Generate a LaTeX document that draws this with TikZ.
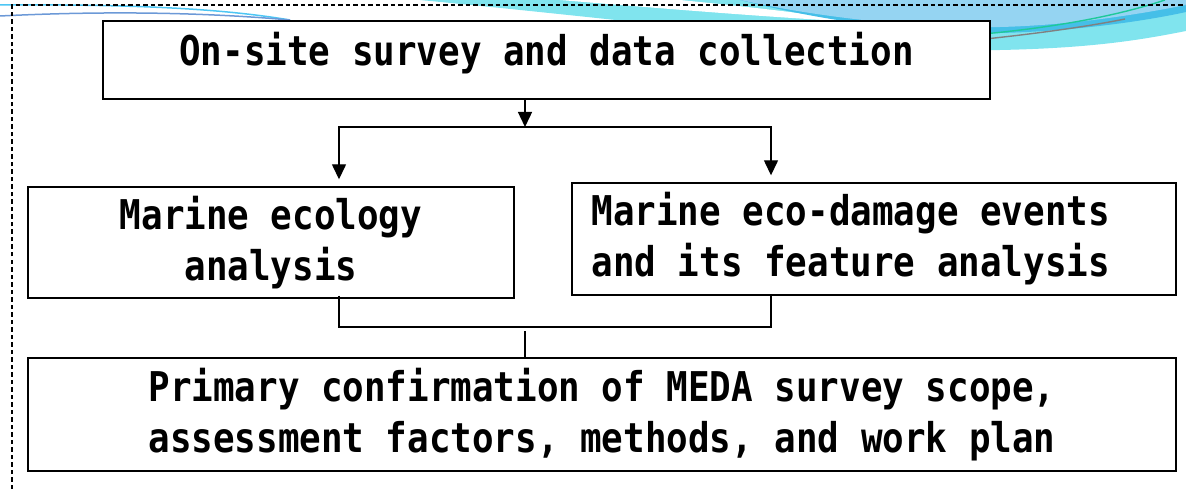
\documentclass[tikz,border=0pt]{standalone}
\usepackage{fontspec}
\newfontfamily\boxfont[FakeStretch=0.875]{DejaVu Sans Mono}
\usetikzlibrary{positioning,arrows.meta}

\definecolor{seacyan}{HTML}{80E4EE}
\definecolor{seasky}{HTML}{95D4F2}
\definecolor{seadeep}{HTML}{45BFE8}
\definecolor{seagreen}{HTML}{1EC99A}

\tikzset{
  boxtext/.style={inner sep=0pt, font=\boxfont\bfseries\fontsize{41}{51}\selectfont},
  box/.style={draw, line width=1.4pt, fill=white, boxtext},
  link/.style={line width=1.4pt},
  flow/.style={link, -{Triangle[width=14pt,length=15pt]}},
  frame/.style={line width=1.4pt, dash pattern=on 4.5pt off 3pt}
}

\begin{document}
\begin{tikzpicture}[x=1pt,y=-1pt]
    \useasboundingbox (0,0) rectangle (1186,489);

    % Background waves
    \fill[seacyan] (420,0) .. controls (650,22) and (880,52) .. (1000,50)
        .. controls (1100,48) and (1150,38) .. (1186,31) -- (1186,0) -- cycle;
    \fill[white] (560,0) .. controls (680,10) and (780,18) .. (860,22)
        .. controls (800,12) and (720,4) .. (680,0) -- cycle;
    \fill[seadeep] (740,0) .. controls (850,28) and (950,34) .. (1000,33)
        .. controls (1080,31) and (1150,20) .. (1186,12) -- (1186,0) -- cycle;
    \fill[seasky] (740,0) .. controls (850,24) and (950,28) .. (1000,27)
        .. controls (1080,25) and (1150,12) .. (1186,5) -- (1186,0) -- cycle;
    \draw[seagreen, line width=1.4pt] (945,37) .. controls (1050,30) and (1120,15) .. (1165,0);
    \draw[gray, line width=1.4pt] (945,43) .. controls (1020,36) and (1080,28) .. (1125,19);
    \draw[cyan!70, line width=1.5pt] (0,5) .. controls (150,4) and (230,10) .. (290,20);
    \draw[cyan!50!blue!60, line width=1.5pt] (0,16) .. controls (100,11) and (200,12) .. (290,20);

    % Dashed frame
    \draw[frame] (12,489) -- (12,5) -- (1186,5);

    % Define nodes
    \node[box, minimum width=887pt, minimum height=78pt, text height=30pt, text depth=18pt]
        (survey) at (546.5,60) {On-site survey and data collection};
    \node[box, align=center, minimum width=486pt, minimum height=111pt]
        (ecology) at (271,242.5) {Marine ecology\\analysis};
    \node[box, minimum width=604pt, minimum height=112pt] (damage) at (874,239) {};
    \node[boxtext, align=left, anchor=west, xshift=20pt]
        (damagetext) at (damage.west) {Marine eco-damage events\\and its feature analysis};
    \node[box, align=center, minimum width=1148pt, minimum height=113pt]
        (scope) at (602,414.5) {Primary confirmation of MEDA survey scope,\\assessment factors, methods, and work plan};

    \coordinate (fork) at (525,127);
    \coordinate (forkL) at (339,127);
    \coordinate (forkR) at (771,127);
    \coordinate (join) at (525,327);

    % Connect nodes
    \draw[flow] (survey.south -| fork) -- (fork);
    \draw[flow, shorten >=7pt] (fork) -| (ecology.north -| forkL);
    \draw[flow, shorten >=7pt] (fork) -| (damage.north -| forkR);
    \draw[link] ([yshift=3pt]ecology.south -| forkL) |- (join) -| ([yshift=2pt]damage.south -| forkR);
    \draw[link] ([yshift=-4pt]join) -- (scope.north -| join);
\end{tikzpicture}
\end{document}
